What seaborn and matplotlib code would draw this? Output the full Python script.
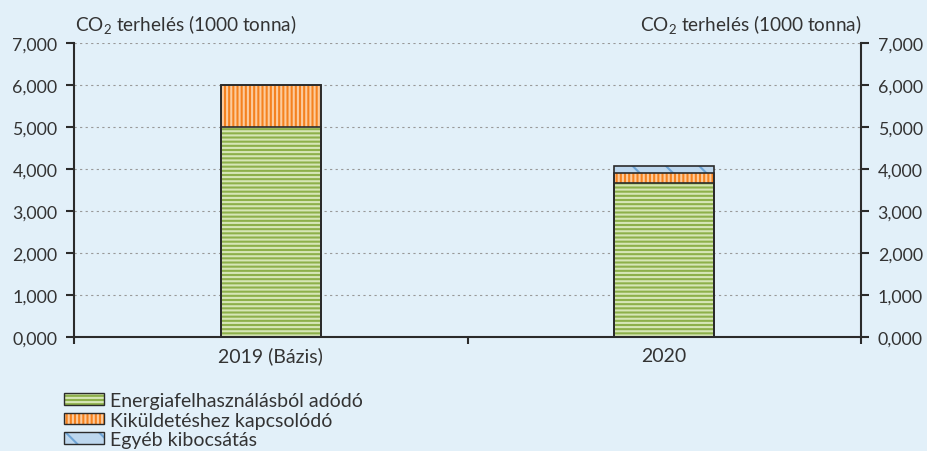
import matplotlib
matplotlib.use("Agg")
import matplotlib.pyplot as plt
import seaborn as sns
from matplotlib.patches import Patch
from matplotlib.legend_handler import HandlerTuple
from matplotlib.ticker import FuncFormatter

# -----------------------
# Data (1000 tonna)
# -----------------------
years = ["2019 (Bázis)", "2020"]
energia = [5.0, 3.67]
kikuldetes = [1.0, 0.23]
egyeb = [0.0, 0.18]
series_names = ["Energiafelhasználásból adódó", "Kiküldetéshez kapcsolódó", "Egyéb kibocsátás"]
yticks = [0, 1, 2, 3, 4, 5, 6, 7]
axis_label = "CO$_2$ terhelés (1000 tonna)"

# -----------------------
# Style
# -----------------------
bg = "#E2F0F9"
dark = "#2b2b2b"
text_col = "#333333"
faces = ["#8DB04A", "#F5821F", "#BDD7EE"]
hatch_cols = ["#D6E6B6", "#FCCB9C", "#6FA5D6"]
hatches = ["----", "||||", "\\"]

sns.set_theme(style="white")
plt.rcParams["font.family"] = ["Lato", "DejaVu Sans"]
plt.rcParams["mathtext.fontset"] = "custom"
plt.rcParams["mathtext.rm"] = "Lato"
plt.rcParams["mathtext.default"] = "regular"
plt.rcParams["hatch.linewidth"] = 1.5

fig = plt.figure(figsize=(9.28, 4.52), dpi=100, facecolor=bg)
ax = fig.add_axes([74 / 928, 1 - 338 / 452, 787 / 928, 294 / 452])
ax.set_facecolor(bg)

# cumulative tops, drawn from the highest layer down
layers = [energia, kikuldetes, egyeb]
tops = []
run = [0.0, 0.0]
for vals in layers:
    run = [a + b for a, b in zip(run, vals)]
    tops.append(run)

bar_w = 0.254
for i in reversed(range(3)):
    sns.barplot(x=years, y=tops[i], color=faces[i], saturation=1, width=bar_w,
                edgecolor=hatch_cols[i], hatch=hatches[i], linewidth=0, ax=ax, zorder=2)
for i in reversed(range(3)):
    sns.barplot(x=years, y=tops[i], width=bar_w, facecolor="none",
                edgecolor=dark, linewidth=1.2, ax=ax, zorder=3)

ax.set_ylim(0, 7)
ax.set_xlim(-0.5, 1.5)
ax.set_yticks(yticks)
fmt = FuncFormatter(lambda v, p: f"{v:.3f}".replace(".", ","))
ax.yaxis.set_major_formatter(fmt)
ax.yaxis.grid(True, linestyle=(0, (2, 3)), color="#999999", linewidth=0.8)
ax.set_axisbelow(True)
ax.set_xlabel("")
ax.set_ylabel("")

ax.set_xticks([0, 1])
ax.set_xticklabels(years)
ax.set_xticks([-0.5, 0.5, 1.5], minor=True)
ax.tick_params(axis="x", which="major", length=0, pad=7, labelsize=14, labelcolor=text_col)
ax.tick_params(axis="x", which="minor", length=5, width=1.5, color=dark, direction="out", bottom=True)
ax.tick_params(axis="y", length=6, width=1.5, color=dark, direction="out", left=True,
               labelsize=12.8, labelcolor=text_col, pad=6)

for s in ["top", "right"]:
    ax.spines[s].set_visible(False)
for s in ["left", "bottom"]:
    ax.spines[s].set_color(dark)
    ax.spines[s].set_linewidth(1.5)

ax2 = ax.twinx()
ax2.set_ylim(0, 7)
ax2.set_yticks(yticks)
ax2.yaxis.set_major_formatter(fmt)
ax2.tick_params(axis="y", length=6, width=1.5, color=dark, direction="out", right=True,
                labelsize=12.8, labelcolor=text_col, pad=6)
for s in ["top", "left", "bottom"]:
    ax2.spines[s].set_visible(False)
ax2.spines["right"].set_color(dark)
ax2.spines["right"].set_linewidth(1.5)
ax2.grid(False)

fig.text(75 / 928, 1 - 25 / 452, axis_label, ha="left", va="center", fontsize=13.7, color=text_col)
fig.text(862 / 928, 1 - 25 / 452, axis_label, ha="right", va="center", fontsize=13.7, color=text_col)

# legend
handles = []
for i in range(3):
    handles.append((Patch(facecolor=faces[i], edgecolor=hatch_cols[i], hatch=hatches[i], linewidth=0),
                    Patch(facecolor="none", edgecolor=dark, linewidth=1.0)))
fig.legend(handles, series_names, handler_map={tuple: HandlerTuple(ndivide=1, pad=0)},
           loc="upper left", bbox_to_anchor=(64 / 928, 1 - 393 / 452), frameon=False,
           fontsize=14, handlelength=2.05, handleheight=0.52, labelspacing=0.13,
           handletextpad=0.3, borderaxespad=0, borderpad=0, labelcolor=text_col)

fig.savefig("out.png", dpi=100, facecolor=bg)
